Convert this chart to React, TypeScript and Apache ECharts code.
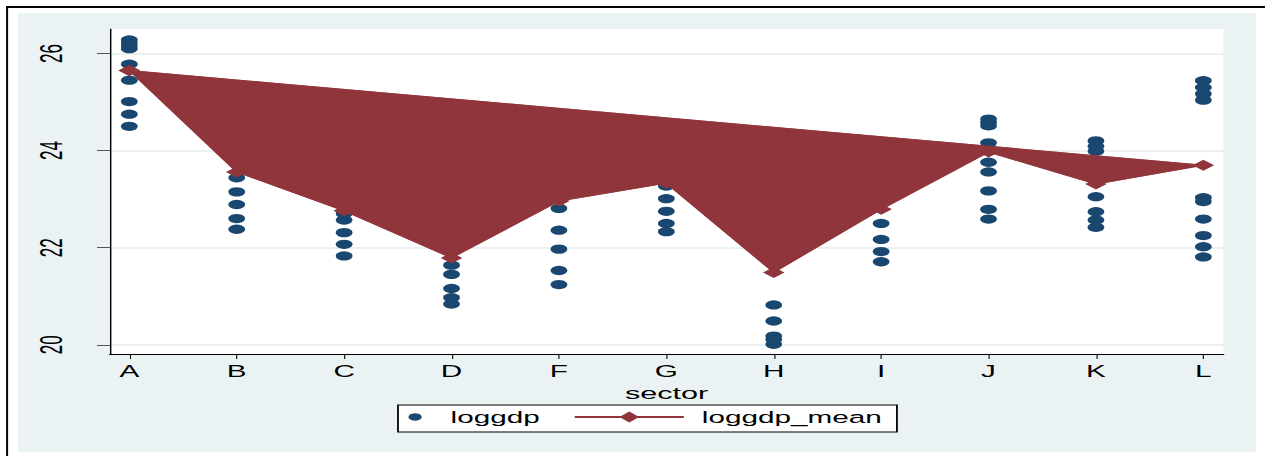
import React, { useEffect, useRef } from "react";
import * as echarts from "echarts";

// ---- data ----
const sectors = ["A", "B", "C", "D", "F", "G", "H", "I", "J", "K", "L"];
const loggdpA = [26.28, 26.22, 26.16, 26.1, 25.78, 25.45, 25.01, 24.75, 24.5];
const loggdpB = [23.44, 23.15, 22.89, 22.6, 22.38];
const loggdpC = [22.7, 22.57, 22.31, 22.07, 21.83];
const loggdpD = [21.64, 21.45, 21.16, 20.97, 20.84];
const loggdpF = [22.81, 22.36, 21.97, 21.53, 21.24];
const loggdpG = [23.27, 23.01, 22.75, 22.5, 22.33];
const loggdpH = [20.82, 20.49, 20.18, 20.11, 20.01];
const loggdpI = [22.5, 22.17, 21.92, 21.71];
const loggdpJ = [24.65, 24.58, 24.51, 24.16, 23.76, 23.56, 23.17, 22.79, 22.59];
const loggdpK = [24.2, 24.09, 23.99, 23.05, 22.74, 22.57, 22.42];
const loggdpL = [25.44, 25.3, 25.17, 25.04, 23.03, 22.95, 22.59, 22.25, 22.02, 21.81];
const loggdpBySector = [loggdpA, loggdpB, loggdpC, loggdpD, loggdpF, loggdpG, loggdpH, loggdpI, loggdpJ, loggdpK, loggdpL];
const loggdpMean = [25.65, 23.56, 22.76, 21.79, 22.96, 23.33, 21.49, 22.79, 23.97, 23.31, 23.7];
const yTicks = [20, 22, 24, 26];

// ---- layout / style ----
const S = 1.8; // horizontal stretch of the reference picture
const W = 1265 / S;
const H = 456;
const NAVY = "#1a476f";
const MAROON = "#90353b";
const BG = "#eaf2f3";
const FONT = '"Liberation Sans", Arial, Helvetica, sans-serif';

export default function App() {
  const ref = useRef<HTMLDivElement>(null);

  useEffect(() => {
    document.body.style.margin = "0";
    document.body.style.overflow = "hidden";
    const chart = echarts.init(ref.current!, null, { renderer: "svg" });
    const idx = sectors.map((_, i) => i);
    const scatterData: number[][] = [];
    loggdpBySector.forEach((vals, i) => vals.forEach((v) => scatterData.push([i, v])));
    const lineData = loggdpMean.map((m, i) => [i, m]);
    lineData.push([0, loggdpMean[0]]);

    const option: any = {
      animation: false,
      backgroundColor: "#ffffff",
      textStyle: { fontFamily: FONT },
      grid: {
        left: 61.1,
        right: W - 679.4,
        top: 29,
        bottom: H - 354,
        show: true,
        backgroundColor: "#ffffff",
        borderWidth: 0,
      },
      xAxis: {
        type: "value",
        min: -0.18,
        max: 10.186,
        name: "sector",
        nameLocation: "middle",
        nameGap: 23,
        nameTextStyle: { fontFamily: FONT, fontSize: 17, color: "#000" },
        axisLine: { show: true, onZero: false, lineStyle: { color: "#000", width: 1.2 } },
        axisTick: { show: true, customValues: idx, length: 5, lineStyle: { color: "#000", width: 0.6 } },
        axisLabel: {
          customValues: idx,
          formatter: (v: number) => sectors[Math.round(v)],
          fontFamily: FONT,
          fontSize: 16.5,
          color: "#000",
          margin: 9,
        },
        splitLine: { show: false },
      },
      yAxis: {
        type: "value",
        min: 19.81,
        max: 26.505,
        axisLine: { show: true, onZero: false, lineStyle: { color: "#000", width: 0.8 } },
        axisTick: { show: true, customValues: yTicks, length: 7.2, lineStyle: { color: "#555", width: 1 } },
        axisLabel: {
          customValues: yTicks,
          rotate: 90,
          fontFamily: FONT,
          fontSize: 17,
          color: "#000",
          margin: 24,
        },
        splitLine: { show: true, lineStyle: { color: "#e4eced", width: 1.5 } },
      },
      legend: [
        {
          data: [{ name: "loggdp", icon: "circle", itemStyle: { color: NAVY, opacity: 1 } }],
          left: 226.9,
          top: 408.5,
          padding: 0,
          itemWidth: 7.4,
          itemHeight: 7.4,
          selectedMode: false,
          textStyle: { fontFamily: FONT, fontSize: 16.5, color: "#000", padding: [0, 0, 0, 11] },
        },
        {
          data: ["loggdp_mean"],
          left: 318.3,
          top: 408.5,
          padding: 0,
          itemWidth: 60.6,
          itemHeight: 13.75,
          selectedMode: false,
          textStyle: { fontFamily: FONT, fontSize: 16.5, color: "#000", padding: [0, 0, 0, 5] },
        },
      ],
      graphic: [
        { type: "rect", z: -10, shape: { x: 10, y: 13.3, width: 687.8, height: 438.7 }, style: { fill: BG } },
        { type: "rect", z: -5, shape: { x: 3.4, y: 6, width: 1.1, height: H - 6 }, style: { fill: "#000" } },
        { type: "rect", z: -5, shape: { x: 3.4, y: 6, width: W - 3.4, height: 2 }, style: { fill: "#000" } },
        {
          type: "rect",
          z: 3,
          shape: { x: 221.1, y: 405, width: 277.2, height: 27 },
          style: { fill: "#ffffff", stroke: "#000", lineWidth: 1 },
        },
      ],
      series: [
        {
          name: "loggdp",
          type: "scatter",
          z: 2,
          symbol: "circle",
          symbolSize: 9.3,
          itemStyle: { color: NAVY, opacity: 1 },
          data: scatterData,
        },
        {
          name: "loggdp_mean_area",
          type: "custom",
          z: 3,
          data: [[0, loggdpMean[0]]],
          renderItem: (params: any, api: any) => {
            if (params.dataIndex !== 0) return null;
            const pts = loggdpMean.map((m, i) => api.coord([i, m]));
            return {
              type: "polygon",
              shape: { points: pts },
              style: { fill: MAROON, stroke: MAROON, lineWidth: 0.5 },
            };
          },
        },
        {
          name: "loggdp_mean",
          type: "line",
          z: 4,
          symbol: "diamond",
          symbolSize: [12, 11],
          showSymbol: true,
          itemStyle: { color: MAROON, opacity: 1 },
          lineStyle: { color: MAROON, width: 1 },
          data: lineData,
        },
      ],
    };
    chart.setOption(option);
    return () => chart.dispose();
  }, []);

  return (
    <div
      ref={ref}
      style={{
        position: "absolute",
        left: 0,
        top: 0,
        width: W + "px",
        height: H + "px",
        transform: `scaleX(${S})`,
        transformOrigin: "0 0",
      }}
    />
  );
}
